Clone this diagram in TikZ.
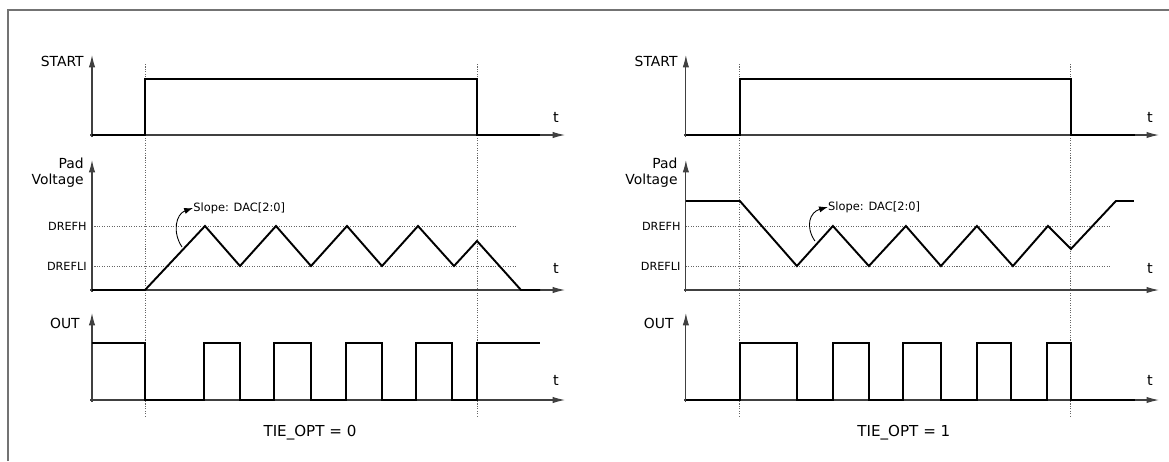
\documentclass[tikz,border=0pt]{standalone}
\usepackage{fontspec}
\setmainfont{DejaVu Sans}
\usetikzlibrary{arrows.meta}

\tikzset{
  axis/.style={draw=black!75, line width=0.6pt, -{Latex[length=7pt,width=3.6pt]}},
  sig/.style={line width=1.1pt, line join=miter},
  guide/.style={draw=black!60, line width=0.5pt, dash pattern=on 0.6pt off 0.8pt},
  lbl/.style={font=\fontsize{7.9}{9}\selectfont, inner sep=0pt, anchor=east},
  lvl/.style={font=\fontsize{6.4}{7}\selectfont, inner sep=0pt, anchor=east},
  tlbl/.style={font=\fontsize{8.2}{9}\selectfont, inner sep=0pt},
  note/.style={font=\fontsize{6.5}{7}\selectfont, inner sep=0pt, anchor=west},
  caption/.style={font=\fontsize{8.6}{10}\selectfont, inner sep=0pt},
}

\begin{document}
\begin{tikzpicture}[x=0.02cm,y=-0.02cm]
  \useasboundingbox (0,0) rectangle (1169,461);
  \draw[black!55,line width=1.1pt] (8,461) -- (8,10) -- (1169,10);

  % TIE_OPT = 0
  \begin{scope}
    \draw[guide] (145,64) -- (145,418);
    \draw[guide] (477,64) -- (477,418);
    % START
    \draw[axis] (90,135) -- (565,135);
    \draw[axis] (92,137) -- (92,55);
    \node[lbl] (start) at (84,61) {START};
    \node[tlbl] (ts) at (556,117) {t};
    \draw[sig] (92,135) -- (145,135) -- (145,79) -- (477,79) -- (477,135) -- (540,135);
    % pad voltage
    \draw[guide] (92,226) -- (517,226);
    \draw[guide] (92,266) -- (517,266);
    \draw[axis] (90,290) -- (565,290);
    \draw[axis] (92,292) -- (92,160);
    \node[lbl] (pad) at (84,163) {Pad};
    \node[lbl] (volt) at (84,181) {Voltage};
    \node[lvl] (drefh) at (87,226) {DREFH};
    \node[lvl] (drefl) at (87,266) {DREFLI};
    \node[tlbl] (tp) at (556,268) {t};
    \draw[sig] (92,290) -- (145,290) -- (205,226) -- (240,266) -- (276,226) -- (311,266)
      -- (347,226) -- (382,266) -- (418,226) -- (454,266) -- (477,241) -- (521,290) -- (540,290);
    \node[note] (slope) at (193,208) {Slope: DAC[2:0]};
    \draw[line width=0.5pt,-{Latex[length=5pt,width=3.5pt]}]
      (182,247) .. controls (172,232) and (176,214) .. (slope.west);
    % OUT
    \draw[axis] (90,400) -- (565,400);
    \draw[axis] (92,402) -- (92,313);
    \node[lbl] (out) at (80,323) {OUT};
    \node[tlbl] (to) at (556,380) {t};
    \draw[sig] (92,343) -- (145,343) -- (145,400) -- (204,400) -- (204,343) -- (240,343)
      -- (240,400) -- (274,400) -- (274,343) -- (311,343) -- (311,400) -- (346,400)
      -- (346,343) -- (382,343) -- (382,400) -- (416,400) -- (416,343) -- (452,343)
      -- (452,400) -- (477,400) -- (477,343) -- (540,343);
    \node[caption] (tie) at (310,433) {TIE\_OPT = 0};
  \end{scope}

  % TIE_OPT = 1
  \begin{scope}[xshift=11.88cm]
    \draw[guide] (146,64) -- (146,418);
    \draw[guide] (477,64) -- (477,418);
    % START
    \draw[axis] (90,135) -- (565,135);
    \draw[axis] (92,137) -- (92,55);
    \node[lbl] (start2) at (84,61) {START};
    \node[tlbl] (ts2) at (556,117) {t};
    \draw[sig] (92,135) -- (146,135) -- (146,79) -- (477,79) -- (477,135) -- (541,135);
    % pad voltage
    \draw[guide] (92,226) -- (517,226);
    \draw[guide] (92,266) -- (517,266);
    \draw[axis] (90,290) -- (565,290);
    \draw[axis] (92,292) -- (92,160);
    \node[lbl] (pad2) at (84,163) {Pad};
    \node[lbl] (volt2) at (84,181) {Voltage};
    \node[lvl] (drefh2) at (87,226) {DREFH};
    \node[lvl] (drefl2) at (87,266) {DREFLI};
    \node[tlbl] (tp2) at (556,268) {t};
    \draw[sig] (92,201) -- (146,201) -- (203,266) -- (239,226) -- (275,266) -- (312,226)
      -- (347,266) -- (383,226) -- (419,266) -- (454,226) -- (477,249) -- (522,201) -- (540,201);
    \node[note] (slope2) at (234,207) {Slope: DAC[2:0]};
    \draw[line width=0.5pt,-{Latex[length=5pt,width=3.5pt]}]
      (221,241) .. controls (211,226) and (216,212) .. (slope2.west);
    % OUT
    \draw[axis] (90,400) -- (565,400);
    \draw[axis] (92,402) -- (92,313);
    \node[lbl] (out2) at (80,323) {OUT};
    \node[tlbl] (to2) at (556,380) {t};
    \draw[sig] (92,400) -- (146,400) -- (146,343) -- (203,343) -- (203,400) -- (239,400)
      -- (239,343) -- (275,343) -- (275,400) -- (309,400) -- (309,343) -- (347,343)
      -- (347,400) -- (383,400) -- (383,343) -- (417,343) -- (417,400) -- (453,400)
      -- (453,343) -- (477,343) -- (477,400) -- (541,400);
    \node[caption] (tie2) at (310,433) {TIE\_OPT = 1};
  \end{scope}
\end{tikzpicture}
\end{document}
